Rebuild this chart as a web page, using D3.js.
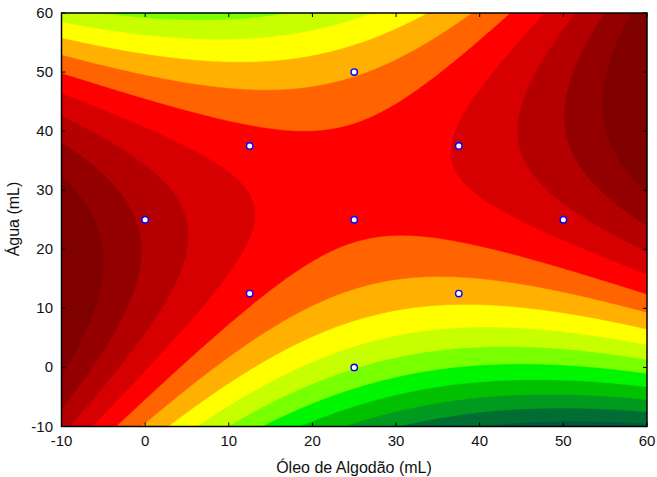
<!DOCTYPE html>
<html><head><meta charset="utf-8">
<script src="https://cdn.jsdelivr.net/npm/d3@7"></script>
<style>body{margin:0;background:#fff}svg{display:block}</style></head>
<body><svg id="c" width="657" height="477"></svg>
<script>
const xTicks=[-10,0,10,20,30,40,50,60];
const yTicks=[-10,0,10,20,30,40,50,60];
// experimental design points (Óleo de Algodão, Água)
const designX=[0,12.5,12.5,25,25,25,37.5,37.5,50];
const designY=[25,12.5,37.5,0,25,50,12.5,37.5,25];
// contour levels (band boundaries) and band colours, lowest to highest
const levels=[1,2,3,4,5,6,7,8,9,10,11,12,13,14];
const bandColors=["#00583c","#006e32","#009a1e","#00c000","#00f500","#78ff00","#c8ff00","#ffff00","#ffb000","#ff6400","#ff0000","#d70000","#b40000","#940000","#800000"];
// quadratic response-surface coefficients
// terms: 1, u, v, u², v², u·v   with u=(x-25)/35, v=(y-25)/35
const surfaceCoef=[10.277,-0.838,1.968,3.767,-5.523,4.959];

function basis(x,y){const u=(x-25)/35,v=(y-25)/35;return [1,u,v,u*u,v*v,u*v];}
const surf=(x,y)=>basis(x,y).reduce((s,f,i)=>s+f*surfaceCoef[i],0);

const svg=d3.select("#c");
const L=61.5,T=13,W=585.5,H=413.5;
const x=d3.scaleLinear().domain([-10,60]).range([L,L+W]);
const y=d3.scaleLinear().domain([-10,60]).range([T+H,T]);
const NX=300,NY=300,vals=new Array(NX*NY);
for(let j=0;j<NY;j++)for(let i=0;i<NX;i++){const gx=-10+(i+0.5)*70/NX, gy=60-(j+0.5)*70/NY;vals[i+j*NX]=surf(gx,gy);}
const cont=d3.contours().size([NX,NY]).thresholds(levels)(vals);
const proj=d3.geoTransform({point:function(px,py){this.stream.point(x(-10+px*70/NX),y(60-py*70/NY));}});
const path=d3.geoPath(proj);
svg.append("clipPath").attr("id","clip").append("rect").attr("x",L).attr("y",T).attr("width",W).attr("height",H);
const g=svg.append("g").attr("clip-path","url(#clip)");
g.append("rect").attr("x",L).attr("y",T).attr("width",W).attr("height",H).attr("fill",bandColors[0]);
g.selectAll("path").data(cont).join("path").attr("d",path).attr("fill",(d,i)=>bandColors[i+1]).attr("stroke",(d,i)=>bandColors[i+1]).attr("stroke-width",0.5);
svg.append("g").selectAll("circle").data(designX).join("circle").attr("cx",d=>x(d)).attr("cy",(d,i)=>y(designY[i])).attr("r",3.2).attr("fill","#fff").attr("stroke","#0000ff").attr("stroke-width",1.4);
svg.append("rect").attr("x",L).attr("y",T).attr("width",W).attr("height",H).attr("fill","none").attr("stroke","#000").attr("stroke-width",1.5);
const font="Liberation Sans, Arial, sans-serif";
const ax=svg.append("g").attr("stroke","#000").attr("stroke-width",1);
xTicks.forEach(t=>{ax.append("line").attr("x1",x(t)).attr("x2",x(t)).attr("y1",T+H).attr("y2",T+H-4);ax.append("line").attr("x1",x(t)).attr("x2",x(t)).attr("y1",T).attr("y2",T+4);});
yTicks.forEach(t=>{ax.append("line").attr("y1",y(t)).attr("y2",y(t)).attr("x1",L).attr("x2",L+4);ax.append("line").attr("y1",y(t)).attr("y2",y(t)).attr("x1",L+W).attr("x2",L+W-4);});
svg.append("g").selectAll("text").data(xTicks).join("text").attr("x",d=>x(d)).attr("y",446).attr("text-anchor","middle").attr("font-family",font).attr("font-size",15).attr("fill","#111").text(d=>d);
svg.append("g").selectAll("text").data(yTicks).join("text").attr("x",53).attr("y",d=>y(d)+5).attr("text-anchor","end").attr("font-family",font).attr("font-size",15).attr("fill","#111").text(d=>d);
svg.append("text").attr("x",354).attr("y",473).attr("text-anchor","middle").attr("font-family",font).attr("font-size",16).attr("fill","#111").text("Óleo de Algodão (mL)");
svg.append("text").attr("transform","translate(19,219) rotate(-90)").attr("text-anchor","middle").attr("font-family",font).attr("font-size",16).attr("fill","#111").text("Água (mL)");
</script></body></html>
